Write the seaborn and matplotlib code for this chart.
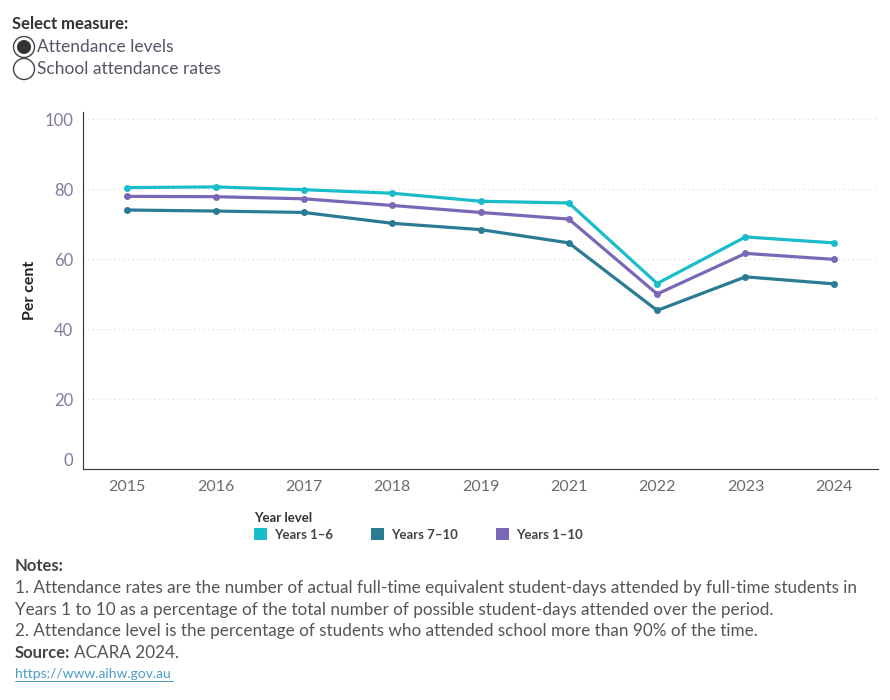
import pandas as pd
import seaborn as sns
import matplotlib.pyplot as plt
from matplotlib.patches import Patch, Circle

years = ["2015", "2016", "2017", "2018", "2019", "2021", "2022", "2023", "2024"]
years_1_6 = [80.4, 80.6, 79.8, 78.8, 76.5, 76.0, 53.0, 66.3, 64.6]
years_7_10 = [74.0, 73.7, 73.3, 70.2, 68.4, 64.6, 45.3, 54.9, 52.9]
years_1_10 = [77.9, 77.8, 77.2, 75.3, 73.3, 71.4, 50.0, 61.6, 59.9]

series = ["Years 1–6", "Years 7–10", "Years 1–10"]
colours = ["#19BCC9", "#2A7B93", "#7A68B7"]

data = pd.DataFrame({"Years 1–6": years_1_6, "Years 7–10": years_7_10,
                     "Years 1–10": years_1_10}, index=years)
data = data.melt(ignore_index=False, var_name="level", value_name="pct").reset_index(names="year")

sns.set_style("white")
plt.rcParams["font.family"] = ["Lato", "DejaVu Sans"]

fig = plt.figure(figsize=(8.9, 7.0), dpi=100)
ax = fig.add_axes([0.0933, 0.33, 0.8932, 0.51])

sns.lineplot(data=data, x="year", y="pct", hue="level", hue_order=series,
             palette=colours, marker="o", markersize=5, markeredgewidth=0,
             linewidth=2.3, legend=False, ax=ax)

ax.set_xlim(-0.5, 8.5)
ax.set_ylim(0, 102)
ax.set_yticks([0, 20, 40, 60, 80, 100])
ax.set_xticks(range(len(years)))
ax.set_xticklabels(years)
ax.set_xticks([i - 0.5 for i in range(len(years) + 1)], minor=True)
ax.tick_params(axis="x", which="major", length=0, pad=8, labelsize=11.5, labelcolor="#6b6b6b")
ax.tick_params(axis="x", which="minor", length=5, color="#e2e2e2", width=0.8)
ax.tick_params(axis="y", length=4, color="#e2e2e2", pad=3, labelsize=12, labelcolor="#7d7d9e")
for lab in ax.get_yticklabels():
    if lab.get_text() == "0":
        lab.set_verticalalignment("bottom")

ax.yaxis.grid(True, linestyle=(0, (1, 3)), color="#d8d8d8", linewidth=0.8)
ax.set_axisbelow(True)
sns.despine(ax=ax)
ax.spines["left"].set_color("#333333")
ax.spines["bottom"].set_color("#333333")
ax.set_xlabel("")
ax.set_ylabel("Per cent", fontsize=11.5, fontweight="bold", color="#222222", labelpad=5)

# measure selector
fig.text(12 / 890, 1 - 24 / 700, "Select measure:", fontsize=12, fontweight="bold",
         color="#333333", va="center")
opts = ["Attendance levels", "School attendance rates"]
for i, opt in enumerate(opts):
    yc = 47 + 22 * i
    fig.patches.append(Circle((24, 700 - yc), 10.5, transform=None, facecolor="white",
                              edgecolor="#444444", linewidth=1.0))
    if i == 0:
        fig.patches.append(Circle((24, 700 - yc), 7, transform=None,
                                  facecolor="#333333", edgecolor="none"))
    fig.text(37 / 890, 1 - yc / 700, opt, fontsize=12.5, color="#555566", va="center")

# legend
handles = [Patch(facecolor=c, edgecolor="none") for c in colours]
leg = fig.legend(handles, series, title="Year level", loc="upper left",
                 bbox_to_anchor=(245 / 890, 1 - 503 / 700), ncol=3, frameon=False,
                 fontsize=9.5, title_fontsize=9.5, handlelength=1.0, handleheight=1.0,
                 handletextpad=0.5, columnspacing=2.9, borderpad=0.2, labelspacing=0.3)
leg._legend_box.align = "left"
leg.get_title().set_fontweight("bold")
leg.get_title().set_color("#333333")
for t in leg.get_texts():
    t.set_color("#444444")
    t.set_fontweight("bold")

# notes
note_col = "#555555"
fig.text(15 / 890, 1 - 566 / 700, "Notes:", fontsize=12, fontweight="bold", color="#444444", va="center")
lines = [
    "1. Attendance rates are the number of actual full-time equivalent student-days attended by full-time students in",
    "Years 1 to 10 as a percentage of the total number of possible student-days attended over the period.",
    "2. Attendance level is the percentage of students who attended school more than 90% of the time.",
]
for i, line in enumerate(lines):
    fig.text(15 / 890, 1 - (588 + 21.7 * i) / 700, line, fontsize=12.3, color=note_col, va="center")
src = fig.text(15 / 890, 1 - 653 / 700, "Source:", fontsize=12, fontweight="bold", color="#444444", va="center")
fig.canvas.draw()
bb = src.get_window_extent()
fig.text((bb.x1 + 4) / 890, 1 - 653 / 700, "ACARA 2024.", fontsize=12.3, color=note_col, va="center")
fig.text(15 / 890, 1 - 674 / 700, "https://www.aihw.gov.au", fontsize=10, color="#4a9cc4",
         va="center", url="https://www.aihw.gov.au")
fig.add_artist(plt.Line2D([15 / 890, 173 / 890], [1 - 681 / 700, 1 - 681 / 700], color="#4a9cc4", linewidth=0.7))

fig.savefig("out.png", dpi=100)
